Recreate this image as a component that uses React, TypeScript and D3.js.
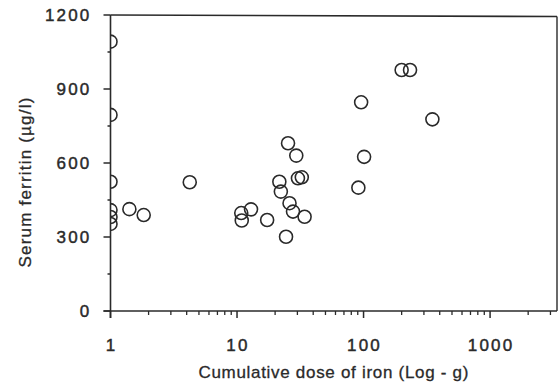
import React from "react";
import * as d3 from "d3";

const doseX: number[] = [1, 1, 1, 1, 1, 1, 1.41, 1.83, 4.23, 10.8, 10.9, 12.9, 17.3, 21.6, 22.2, 24.4, 25.3, 26, 27.7, 29.4, 30.3, 32.5, 34.2, 91, 95.7, 101, 200, 233, 350];
const ferritinY: number[] = [1092, 795, 524, 409, 381, 353, 413, 389, 522, 397, 367, 412, 369, 524, 484, 301, 680, 437, 403, 630, 538, 542, 382, 500, 846, 625, 977, 977, 777];
const yTicks: number[] = [0, 300, 600, 900, 1200];
const yMinor: number[] = [150, 450, 750, 1050];
const xTicks: number[] = [1, 10, 100, 1000];
const xLabels: string[] = ["1", "10", "100", "1000"];
const xTitle = "Cumulative dose of iron (Log - g)";
const yTitle = "Serum ferritin (µg/l)";

const W = 559;
const H = 385;
const left = 110.5;
const right = 557;
const top = 15;
const bottom = 311;
const xMax = 3380;

export default function App() {
  const x = d3.scaleLog().domain([1, xMax]).range([left, right]);
  const y = d3.scaleLinear().domain([0, 1200]).range([bottom, top]);
  const xMinor: number[] = [];
  for (let d = 1; d <= 1000; d *= 10) {
    for (let k = 2; k <= 9; k++) {
      if (d * k <= xMax) xMinor.push(d * k);
    }
  }
  const ink = "#2a2a2a";
  const font = "'Liberation Sans', Arial, Helvetica, sans-serif";
  const textStyle = { stroke: ink, strokeWidth: 0.45 };
  return (
    <svg width={W} height={H} style={{ position: "absolute", left: 0, top: 0, background: "#fff" }}>
      <defs>
        <clipPath id="plot">
          <rect x={left} y={top} width={right - left} height={bottom - top} />
        </clipPath>
      </defs>
      <rect x={0} y={0} width={W} height={H} fill="#fff" />
      {/* frame */}
      <line x1={left} x2={left} y1={top} y2={bottom + 7} stroke={ink} strokeWidth={1.6} />
      <line x1={left - 7} x2={right} y1={bottom} y2={bottom} stroke={ink} strokeWidth={1.6} />
      <line x1={left} x2={right} y1={top} y2={top + 1.5} stroke={ink} strokeWidth={1.6} />
      <line x1={right} x2={right} y1={top + 1.5} y2={bottom} stroke={ink} strokeWidth={1.4} />
      {/* y ticks */}
      {yTicks.map((t) => (
        <g key={"yt" + t}>
          <line x1={left - 7} x2={left} y1={y(t)} y2={y(t)} stroke={ink} strokeWidth={1.5} />
          <text x={left - 19} y={y(t)} dy="0.36em" textAnchor="end" fontFamily={font} fontSize={17} letterSpacing={2.2} fill={ink} style={textStyle}>
            {t}
          </text>
        </g>
      ))}
      {yMinor.map((t) => (
        <line key={"ym" + t} x1={left - 3} x2={left} y1={y(t)} y2={y(t)} stroke={ink} strokeWidth={1.5} />
      ))}
      {/* x ticks */}
      {xTicks.map((t, i) => (
        <g key={"xt" + t}>
          <line x1={x(t)} x2={x(t)} y1={bottom} y2={bottom + 7} stroke={ink} strokeWidth={1.5} />
          <text x={x(t) + 1} y={345} dy="0.36em" textAnchor="middle" fontFamily={font} fontSize={17} letterSpacing={2.2} fill={ink} style={textStyle}>
            {xLabels[i]}
          </text>
        </g>
      ))}
      {xMinor.map((t) => (
        <line key={"xm" + t} x1={x(t)} x2={x(t)} y1={bottom} y2={bottom + 4} stroke={ink} strokeWidth={1.3} />
      ))}
      {/* points */}
      <g clipPath="url(#plot)">
        {doseX.map((d, i) => (
          <circle key={"p" + i} cx={x(d)} cy={y(ferritinY[i])} r={6.5} fill="none" stroke={ink} strokeWidth={1.6} />
        ))}
      </g>
      {/* titles */}
      <text x={(left + right) / 2} y={372} dy="0.36em" textAnchor="middle" fontFamily={font} fontSize={17} letterSpacing={0.7} fill={ink} style={{ stroke: ink, strokeWidth: 0.3 }}>
        {xTitle}
      </text>
      <text transform={`translate(25,${182}) rotate(-90)`} dy="0.36em" textAnchor="middle" fontFamily={font} fontSize={17} letterSpacing={1.2} fill={ink} style={{ stroke: ink, strokeWidth: 0.3 }}>
        {yTitle}
      </text>
    </svg>
  );
}
